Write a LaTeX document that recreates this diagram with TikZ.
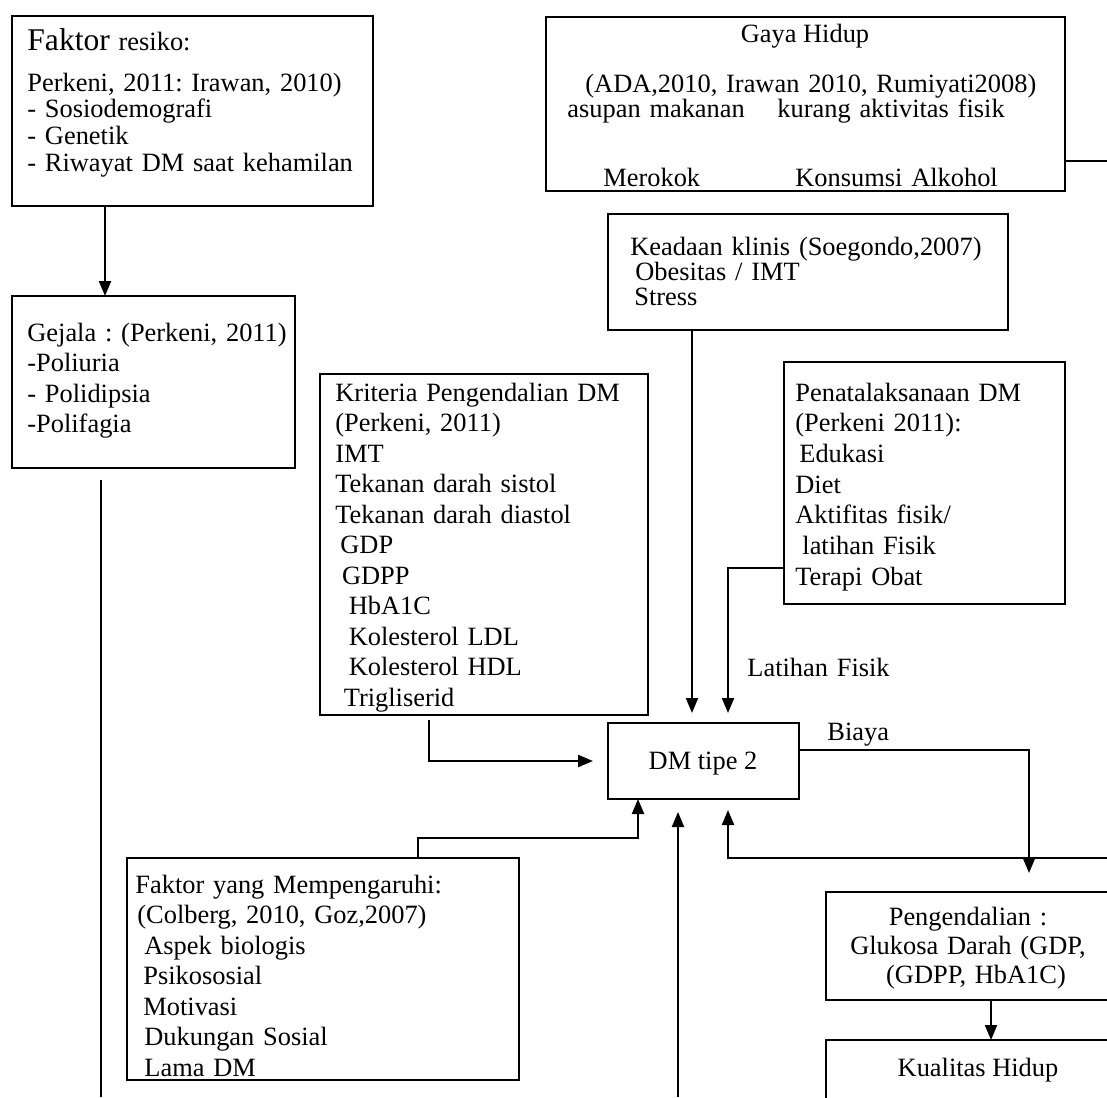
\documentclass[tikz,border=0pt]{standalone}
\usepackage{fontspec}
\setmainfont{Liberation Serif}
\usetikzlibrary{arrows.meta,fit,calc}
\frenchspacing
\begin{document}
\begin{tikzpicture}[x=0.5pt,y=-0.5pt,
  box/.style={draw,line width=1pt,inner sep=0pt,outer sep=0pt},
  tx/.style={inner sep=0pt,anchor=base west,align=left,text width=#1},
  fs/.style={font=\fontsize{13.2pt}{#1}\selectfont\frenchspacing},
  arr/.style={line width=1.1pt,-{Triangle[length=7.5pt,width=6pt]}},
  ln/.style={line width=1.1pt},
  thin/.style={line width=0.6pt}]
\useasboundingbox (0,0) rectangle (1107,1097);
\clip (0,0) rectangle (1107,1097);
% boxes
\node[box,fit={(12,16)(373,206)}] (fr) {};
\node[box,fit={(546,17)(1065,191)}] (gh) {};
\node[box,fit={(608,214)(1008,330)}] (kk) {};
\node[box,fit={(12,296)(295,468)}] (gj) {};
\node[box,fit={(320,374)(648,715)}] (kr) {};
\node[box,fit={(784,362)(1065,604)}] (pn) {};
\node[box,fit={(608,723)(799,799)}] (dm) {};
\node[box,fit={(127,858)(519,1080)}] (fm) {};
\node[box,fit={(826,892)(1125,1000)}] (pg) {};
\node[box,fit={(826,1040)(1125,1115)}] (kh) {};
% texts
\node[tx=170pt,fs=16pt] (frT) at (27,51) {{\fontsize{15.8pt}{16pt}\selectfont Faktor} resiko:};
\node[tx=170pt,fs=13.35pt] (frB) at (27,91) {Perkeni, 2011: Irawan, 2010)\\- Sosiodemografi\\- Genetik\\- Riwayat DM saat kehamilan};
\node[inner sep=0pt,anchor=base,fs=15pt] (ghT) at (805,43) {Gaya Hidup};
\node[tx=240pt,fs=15pt] (ghA) at (585,92) {(ADA,2010, Irawan 2010, Rumiyati2008)};
\node[tx=100pt,fs=15pt] (ghB) at (567,118) {asupan makanan};
\node[tx=130pt,fs=15pt] (ghC) at (777,118) {kurang aktivitas fisik};
\node[tx=60pt,fs=15pt] (ghD) at (603,186) {Merokok};
\node[tx=110pt,fs=15pt] (ghE) at (795,186) {Konsumsi Alkohol};
\node[tx=190pt,fs=12.5pt] (kkT) at (630,255) {Keadaan klinis (Soegondo,2007)\\\hspace*{2.5pt}Obesitas / IMT\\\hspace*{2pt}Stress};
\node[tx=140pt,fs=15.25pt] (gjT) at (27,341) {Gejala : (Perkeni, 2011)\\-Poliuria\\- Polidipsia\\-Polifagia};
\node[tx=160pt,fs=15.25pt] (krT) at (335,401) {Kriteria Pengendalian DM\\(Perkeni, 2011)\\IMT\\Tekanan darah sistol\\Tekanan darah diastol\\\hspace*{2.5pt}GDP\\\hspace*{3.3pt}GDPP\\\hspace*{6.7pt}HbA1C\\\hspace*{6.7pt}Kolesterol LDL\\\hspace*{6.7pt}Kolesterol HDL\\\hspace*{4.2pt}Trigliserid};
\node[tx=135pt,fs=15.35pt] (pnT) at (795,401) {Penatalaksanaan DM\\(Perkeni 2011):\\\hspace*{2pt}Edukasi\\Diet\\Aktifitas fisik/\\\hspace*{3.5pt}latihan Fisik\\Terapi Obat};
\node[inner sep=0pt,anchor=base,fs=15pt] (dmT) at (703,769) {DM tipe 2};
\node[tx=190pt,fs=15.25pt] (fmT) at (135,893) {Faktor yang Mempengaruhi:\\\hspace*{1pt}(Colberg, 2010, Goz,2007)\\\hspace*{4.5pt}Aspek biologis\\\hspace*{4pt}Psikososial\\\hspace*{4pt}Motivasi\\\hspace*{4.5pt}Dukungan Sosial\\\hspace*{4.5pt}Lama DM};
\node[inner sep=0pt,anchor=base,align=center,text width=130pt,fs=14.5pt] (pgT) at (968,925) {Pengendalian :\\Glukosa Darah (GDP,\\\hspace*{8pt}(GDPP, HbA1C)};
\node[inner sep=0pt,anchor=base,fs=15pt] (khT) at (978,1076) {Kualitas Hidup};
\node[tx=80pt,fs=15pt] (latT) at (747,676) {Latihan Fisik};
\node[tx=40pt,fs=15pt] (biT) at (827,740) {Biaya};
% free ends
\coordinate (ghEnd) at (1107,161);
\coordinate (botIn) at (678,1097);
\coordinate (rightIn) at (1107,858);
\coordinate (thinBot) at (101,1097);
% connectors
\draw[arr] ($(fr.south west)+(93,0)$) -- ($(gj.north west)+(93,0)$);
\draw[ln] ($(gh.north east)+(0,144)$) -- (ghEnd);
\draw[arr] ($(kk.south west)+(84,0)$) -- ($(dm.north west)+(84,-10)$);
\draw[arr] ($(pn.north west)+(0,206)$) -| ($(dm.north west)+(120,-10)$);
\draw[arr] ($(kr.south west)+(109,5)$) |- ($(dm.west)+(-15,0)$);
\draw[arr] ($(fm.north west)+(291,0)$) -- ++(0,-20) -| ($(dm.south west)+(30,0)$);
\draw[arr] (botIn) -- ($(dm.south west)+(70,13)$);
\draw[arr] (rightIn) -| ($(dm.south west)+(120,11)$);
\draw[arr] ($(dm.north east)+(0,27)$) -| ($(pg.north west)+(203,-19)$);
\draw[arr] ($(pg.south west)+(165,0)$) -- ($(kh.north west)+(165,0)$);
\draw[thin] ($(gj.south west)+(89,12)$) -- (thinBot);
\end{tikzpicture}
\end{document}
